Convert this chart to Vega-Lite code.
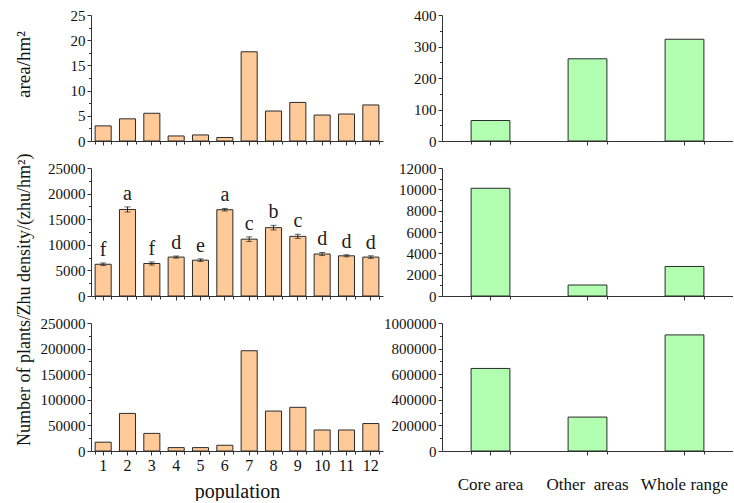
{
  "$schema": "https://vega.github.io/schema/vega-lite/v6.json",
  "padding": {"left": 14, "top": 8, "right": 0, "bottom": 0},
  "datasets": {
    "pop": [
      {"population": 1, "area": 3.0, "density": 6200, "lo": 5950, "hi": 6450, "letter": "f", "plants": 17200},
      {"population": 2, "area": 4.4, "density": 16900, "lo": 16400, "hi": 17400, "letter": "a", "plants": 73400},
      {"population": 3, "area": 5.5, "density": 6350, "lo": 6050, "hi": 6650, "letter": "f", "plants": 34400},
      {"population": 4, "area": 1.0, "density": 7600, "lo": 7400, "hi": 7800, "letter": "d", "plants": 6600},
      {"population": 5, "area": 1.2, "density": 7000, "lo": 6750, "hi": 7250, "letter": "e", "plants": 6600},
      {"population": 6, "area": 0.7, "density": 16850, "lo": 16600, "hi": 17100, "letter": "a", "plants": 11200},
      {"population": 7, "area": 17.7, "density": 11100, "lo": 10650, "hi": 11550, "letter": "c", "plants": 195800},
      {"population": 8, "area": 5.95, "density": 13350, "lo": 12900, "hi": 13800, "letter": "b", "plants": 78000},
      {"population": 9, "area": 7.65, "density": 11650, "lo": 11250, "hi": 12050, "letter": "c", "plants": 85300},
      {"population": 10, "area": 5.15, "density": 8200, "lo": 7900, "hi": 8500, "letter": "d", "plants": 41000},
      {"population": 11, "area": 5.35, "density": 7850, "lo": 7650, "hi": 8050, "letter": "d", "plants": 41000},
      {"population": 12, "area": 7.15, "density": 7600, "lo": 7350, "hi": 7850, "letter": "d", "plants": 53600}
    ],
    "reg": [
      {"region": "Core area", "area": 65, "density": 10100, "plants": 645000},
      {"region": "Other\u00a0 areas", "area": 261, "density": 1030, "plants": 265000},
      {"region": "Whole range", "area": 323, "density": 2770, "plants": 907000}
    ]
  },
  "columns": 2,
  "bounds": "flush",
  "spacing": {"row": 27, "column": 59},
  "concat": [
    {
      "width": 292, "height": 126,
      "data": {"name": "pop"},
      "layer": [
        {
          "mark": {"type": "bar", "fill": "#FFCA98", "stroke": "#2a2a2a", "strokeWidth": 1},
          "encoding": {
            "x": {"field": "population", "type": "ordinal", "scale": {"paddingInner": 0.34, "paddingOuter": 0.17},
                  "axis": {"orient": "bottom", "title": null, "labels": false}},
            "y": {"field": "area", "type": "quantitative", "scale": {"domain": [0, 25], "nice": false},
                  "axis": {"orient": "left", "values": [0, 5, 10, 15, 20, 25], "format": "d", "title": "area/hm²", "titleFontSize": 19, "titleX": -62, "titleY": 49, "titleBaseline": "alphabetic"}}
          }
        },
        {
          "mark": {"type": "bar", "opacity": 0},
          "encoding": {
            "x": {"field": "population", "type": "ordinal", "axis": {"orient": "bottom", "tickBand": "extent", "labels": false, "domain": false, "title": null, "tickSize": 3}},
            "y": {"field": "area", "type": "quantitative", "axis": {"orient": "left", "values": [2.5, 7.5, 12.5, 17.5, 22.5], "labels": false, "domain": false, "title": null, "tickSize": 2.5}}
          }
        }
      ],
      "resolve": {"axis": {"x": "independent", "y": "independent"}}
    },
    {
      "width": 291, "height": 126,
      "data": {"name": "reg"},
      "layer": [
        {
          "mark": {"type": "bar", "fill": "#B2FFB2", "stroke": "#2a2a2a", "strokeWidth": 1},
          "encoding": {
            "x": {"field": "region", "type": "nominal", "sort": null, "scale": {"paddingInner": 0.6, "paddingOuter": 0.3},
                  "axis": {"orient": "bottom", "title": null, "labels": false}},
            "y": {"field": "area", "type": "quantitative", "scale": {"domain": [0, 400], "nice": false},
                  "axis": {"orient": "left", "values": [0, 100, 200, 300, 400], "format": "d", "title": null}}
          }
        },
        {
          "mark": {"type": "bar", "opacity": 0},
          "encoding": {
            "x": {"field": "region", "type": "nominal", "sort": null, "axis": {"orient": "bottom", "tickBand": "extent", "labels": false, "domain": false, "title": null, "tickSize": 3}},
            "y": {"field": "area", "type": "quantitative", "axis": {"orient": "left", "values": [50, 150, 250, 350], "labels": false, "domain": false, "title": null, "tickSize": 2.5}}
          }
        }
      ],
      "resolve": {"axis": {"x": "independent", "y": "independent"}}
    },
    {
      "width": 292, "height": 128,
      "data": {"name": "pop"},
      "layer": [
        {
          "mark": {"type": "bar", "fill": "#FFCA98", "stroke": "#2a2a2a", "strokeWidth": 1},
          "encoding": {
            "x": {"field": "population", "type": "ordinal", "scale": {"paddingInner": 0.34, "paddingOuter": 0.17},
                  "axis": {"orient": "bottom", "title": null, "labels": false}},
            "y": {"field": "density", "type": "quantitative", "scale": {"domain": [0, 25000], "nice": false},
                  "axis": {"orient": "left", "values": [0, 5000, 10000, 15000, 20000, 25000], "format": "d", "title": "Zhu density/(zhu/hm²)", "titleX": -62, "titleY": 66, "titleBaseline": "alphabetic"}}
          }
        },
        {
          "mark": {"type": "errorbar", "ticks": {"size": 6}, "color": "#222", "thickness": 1},
          "encoding": {
            "x": {"field": "population", "type": "ordinal", "axis": null},
            "y": {"field": "lo", "type": "quantitative", "axis": null},
            "y2": {"field": "hi"}
          }
        },
        {
          "mark": {"type": "text", "font": "Liberation Serif", "fontSize": 20, "baseline": "alphabetic", "dy": -7, "color": "#222"},
          "encoding": {
            "x": {"field": "population", "type": "ordinal", "axis": null},
            "y": {"field": "hi", "type": "quantitative", "axis": null},
            "text": {"field": "letter"}
          }
        },
        {
          "mark": {"type": "bar", "opacity": 0},
          "encoding": {
            "x": {"field": "population", "type": "ordinal", "axis": {"orient": "bottom", "tickBand": "extent", "labels": false, "domain": false, "title": null, "tickSize": 3}},
            "y": {"field": "density", "type": "quantitative", "axis": {"orient": "left", "values": [2500, 7500, 12500, 17500, 22500], "labels": false, "domain": false, "title": null, "tickSize": 2.5}}
          }
        }
      ],
      "resolve": {"axis": {"x": "independent", "y": "independent"}}
    },
    {
      "width": 291, "height": 128,
      "data": {"name": "reg"},
      "layer": [
        {
          "mark": {"type": "bar", "fill": "#B2FFB2", "stroke": "#2a2a2a", "strokeWidth": 1},
          "encoding": {
            "x": {"field": "region", "type": "nominal", "sort": null, "scale": {"paddingInner": 0.6, "paddingOuter": 0.3},
                  "axis": {"orient": "bottom", "title": null, "labels": false}},
            "y": {"field": "density", "type": "quantitative", "scale": {"domain": [0, 12000], "nice": false},
                  "axis": {"orient": "left", "values": [0, 2000, 4000, 6000, 8000, 10000, 12000], "format": "d", "title": null}}
          }
        },
        {
          "mark": {"type": "bar", "opacity": 0},
          "encoding": {
            "x": {"field": "region", "type": "nominal", "sort": null, "axis": {"orient": "bottom", "tickBand": "extent", "labels": false, "domain": false, "title": null, "tickSize": 3}},
            "y": {"field": "density", "type": "quantitative", "axis": {"orient": "left", "values": [1000, 3000, 5000, 7000, 9000, 11000], "labels": false, "domain": false, "title": null, "tickSize": 2.5}}
          }
        }
      ],
      "resolve": {"axis": {"x": "independent", "y": "independent"}}
    },
    {
      "width": 292, "height": 128,
      "data": {"name": "pop"},
      "layer": [
        {
          "mark": {"type": "bar", "fill": "#FFCA98", "stroke": "#2a2a2a", "strokeWidth": 1},
          "encoding": {
            "x": {"field": "population", "type": "ordinal", "scale": {"paddingInner": 0.34, "paddingOuter": 0.17},
                  "axis": {"orient": "bottom", "title": "population", "labelAngle": 0, "labelFontSize": 16, "labelPadding": 2, "titleFontSize": 20, "titlePadding": 8}},
            "y": {"field": "plants", "type": "quantitative", "scale": {"domain": [0, 250000], "nice": false},
                  "axis": {"orient": "left", "values": [0, 50000, 100000, 150000, 200000, 250000], "format": "d", "title": "Number of plants/", "titleX": -62, "titleY": 57, "titleBaseline": "alphabetic"}}
          }
        },
        {
          "mark": {"type": "bar", "opacity": 0},
          "encoding": {
            "x": {"field": "population", "type": "ordinal", "axis": {"orient": "bottom", "tickBand": "extent", "labels": false, "domain": false, "title": null, "tickSize": 3}},
            "y": {"field": "plants", "type": "quantitative", "axis": {"orient": "left", "values": [25000, 75000, 125000, 175000, 225000], "labels": false, "domain": false, "title": null, "tickSize": 2.5}}
          }
        }
      ],
      "resolve": {"axis": {"x": "independent", "y": "independent"}}
    },
    {
      "width": 291, "height": 128,
      "data": {"name": "reg"},
      "layer": [
        {
          "mark": {"type": "bar", "fill": "#B2FFB2", "stroke": "#2a2a2a", "strokeWidth": 1},
          "encoding": {
            "x": {"field": "region", "type": "nominal", "sort": null, "scale": {"paddingInner": 0.6, "paddingOuter": 0.3},
                  "axis": {"orient": "bottom", "title": null, "labelAngle": 0, "labelFontSize": 17, "labelPadding": 21}},
            "y": {"field": "plants", "type": "quantitative", "scale": {"domain": [0, 1000000], "nice": false},
                  "axis": {"orient": "left", "values": [0, 200000, 400000, 600000, 800000, 1000000], "format": "d", "title": null}}
          }
        },
        {
          "mark": {"type": "bar", "opacity": 0},
          "encoding": {
            "x": {"field": "region", "type": "nominal", "sort": null, "axis": {"orient": "bottom", "tickBand": "extent", "labels": false, "domain": false, "title": null, "tickSize": 3}},
            "y": {"field": "plants", "type": "quantitative", "axis": {"orient": "left", "values": [100000, 300000, 500000, 700000, 900000], "labels": false, "domain": false, "title": null, "tickSize": 2.5}}
          }
        }
      ],
      "resolve": {"axis": {"x": "independent", "y": "independent"}}
    }
  ],
  "config": {
    "view": {"stroke": null},
    "font": "Liberation Serif",
    "axis": {
      "domainColor": "#333", "tickColor": "#333", "labelColor": "#111", "titleColor": "#111",
      "labelFont": "Liberation Serif", "titleFont": "Liberation Serif",
      "labelFontSize": 15, "titleFontSize": 18, "titleFontWeight": "normal",
      "grid": false, "tickSize": 4, "labelPadding": 2, "domainWidth": 1, "tickWidth": 1
    }
  }
}
